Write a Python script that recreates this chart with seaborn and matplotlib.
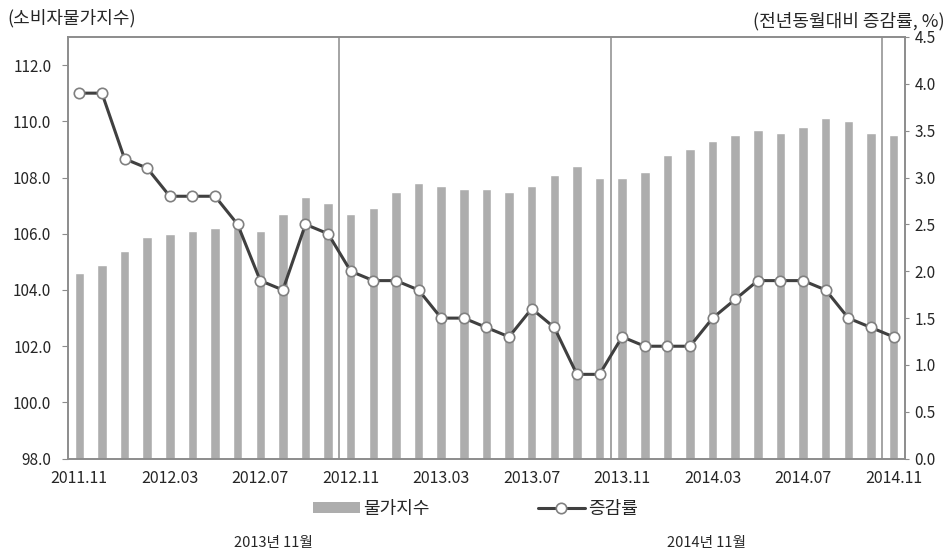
"""
CPI index bars with year-on-year change line (2011.11 - 2014.11).
"""
import pandas as pd
import numpy as np
import matplotlib
matplotlib.use('Agg')
import matplotlib.pyplot as plt
import seaborn as sns
from matplotlib.patches import Patch
from matplotlib.lines import Line2D

months = [p.strftime('%Y.%m') for p in pd.period_range('2011-11', '2014-11', freq='M')]

cpi_index = [104.6, 104.9, 105.4, 105.9, 106.0, 106.1, 106.2, 106.2, 106.1, 106.7,
             107.3, 107.1, 106.7, 106.9, 107.5, 107.8, 107.7, 107.6, 107.6, 107.5,
             107.7, 108.1, 108.4, 108.0, 108.0, 108.2, 108.8, 109.0, 109.3, 109.5,
             109.7, 109.6, 109.8, 110.1, 110.0, 109.6, 109.5]

yoy_rate = [3.9, 3.9, 3.2, 3.1, 2.8, 2.8, 2.8, 2.5, 1.9, 1.8,
            2.5, 2.4, 2.0, 1.9, 1.9, 1.8, 1.5, 1.5, 1.4, 1.3,
            1.6, 1.4, 0.9, 0.9, 1.3, 1.2, 1.2, 1.2, 1.5, 1.7,
            1.9, 1.9, 1.9, 1.8, 1.5, 1.4, 1.3]

tick_labels = ['2011.11', '2012.03', '2012.07', '2012.11', '2013.03',
               '2013.07', '2013.11', '2014.03', '2014.07', '2014.11']

BAR_COLOR = '#adadad'
LINE_COLOR = '#404040'
AXIS_COLOR = '#8c8c8c'
MARKER = dict(marker='o', markersize=7.5, markerfacecolor='white',
              markeredgecolor='#808080', markeredgewidth=1.2)

sns.set_style('white')
plt.rcParams['font.family'] = ['Noto Sans CJK KR', 'DejaVu Sans']

df = pd.DataFrame({'Month': months, 'CPI': cpi_index, 'YoY': yoy_rate})
df['Pos'] = np.arange(len(df))

fig = plt.figure(figsize=(9.51, 5.55), dpi=100)
ax = fig.add_axes([0.0715, 0.1735, 0.880, 0.760])

sns.barplot(data=df, x='Month', y='CPI', color=BAR_COLOR, width=0.42,
            saturation=1, ax=ax, zorder=2)
ax.set_ylim(98, 113)
ax.set_yticks(np.arange(98, 113, 2))
ax.set_yticklabels([f'{v:.1f}' for v in np.arange(98, 113, 2)], fontsize=11)
ax.set_xlim(-0.5, len(df) - 0.5)
ax.set_xticks([months.index(t) for t in tick_labels])
ax.set_xticklabels(tick_labels, fontsize=11.5)
ax.set_xticks([5.5, 17.5, 29.5], minor=True)
ax.tick_params(axis='x', which='major', length=0, pad=8)
ax.tick_params(axis='x', which='minor', length=5, color=AXIS_COLOR, direction='out')
ax.tick_params(axis='y', length=4, color=AXIS_COLOR, direction='out', left=True, pad=8)
ax.set_xlabel('')
ax.set_ylabel('')

# year separators
for xv in [11.5, 23.5, 35.5]:
    ax.axvline(xv, color=AXIS_COLOR, linewidth=1.1, zorder=3)

ax2 = ax.twinx()
sns.lineplot(data=df, x='Pos', y='YoY', ax=ax2, color=LINE_COLOR, linewidth=2.2,
             zorder=5, **MARKER)
ax2.set_ylim(0, 4.5)
ax2.set_yticks(np.arange(0, 4.51, 0.5))
ax2.set_yticklabels([f'{v:.1f}' for v in np.arange(0, 4.51, 0.5)], fontsize=11)
ax2.tick_params(axis='y', length=3, color=AXIS_COLOR, direction='out', right=True, pad=4)
ax2.set_xlabel('')
ax2.set_ylabel('')
ax2.set_xlim(-0.5, len(df) - 0.5)

for a in (ax, ax2):
    for sp in a.spines.values():
        sp.set_visible(True)
        sp.set_color(AXIS_COLOR)
        sp.set_linewidth(1.2)

fig.text(0.008, 0.967, '(소비자물가지수)', fontsize=13, ha='left', va='center')
fig.text(0.993, 0.962, '(전년동월대비 증감률, %)', fontsize=13, ha='right', va='center')

handles = [Patch(facecolor=BAR_COLOR, edgecolor='none'),
           Line2D([0], [0], color=LINE_COLOR, linewidth=2.2, **MARKER)]
fig.legend(handles, ['물가지수', '증감률'], loc='center', bbox_to_anchor=(0.5, 0.083),
           ncol=2, frameon=False, fontsize=13, handlelength=2.6, handleheight=0.6,
           handletextpad=0.2, columnspacing=6.0)

fig.text(0.287, 0.022, '2013년 11월', fontsize=10.5, ha='center', va='center')
fig.text(0.743, 0.022, '2014년 11월', fontsize=10.5, ha='center', va='center')

fig.savefig('out.png', dpi=100)
plt.close(fig)
